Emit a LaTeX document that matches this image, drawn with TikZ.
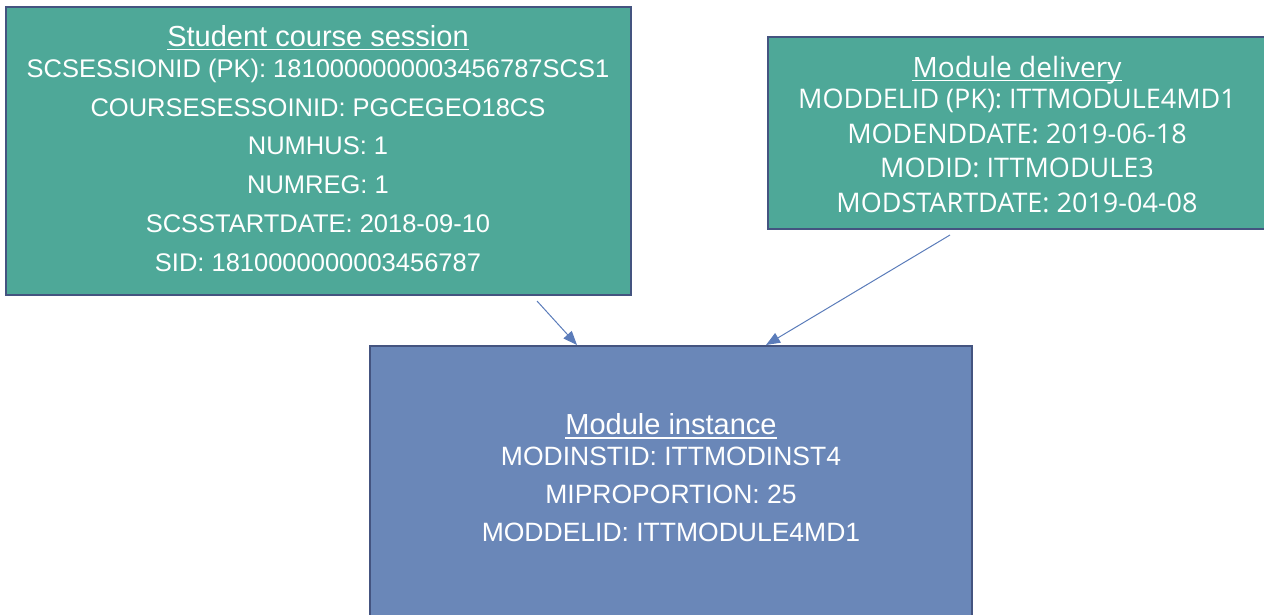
\documentclass[tikz,border=0pt]{standalone}
\usepackage{fontspec}
\newfontfamily\arialf{Liberation Sans}
\newfontfamily\opensf{Open Sans}
\usetikzlibrary{arrows.meta}
\definecolor{teal}{RGB}{78,168,152}
\definecolor{bluebox}{RGB}{106,135,184}
\definecolor{edge}{RGB}{68,84,128}
\definecolor{arrowc}{RGB}{91,124,186}
\begin{document}
\begin{tikzpicture}[x=1pt,y=-1pt,
  box/.style={draw=edge,line width=2pt,rectangle,inner sep=0pt},
  tA/.style={text=white,inner sep=0pt,anchor=base,font=\arialf\fontsize{25.5}{28}\selectfont},
  tB/.style={text=white,inner sep=0pt,anchor=base,font=\arialf\fontsize{26.5}{29}\selectfont},
  tAt/.style={text=white,inner sep=0pt,anchor=base,font=\arialf\fontsize{29}{32}\selectfont},
  tO/.style={text=white,inner sep=0pt,anchor=base,font=\opensf\fontsize{27}{30}\selectfont},
  tOt/.style={text=white,inner sep=0pt,anchor=base,font=\opensf\fontsize{28}{31}\selectfont},
  uline/.style={draw=white,line width=1.8pt},
  arr/.style={draw=arrowc,line width=1pt,-{Triangle[length=14pt,width=11pt]}}]
\useasboundingbox (0,0) rectangle (1264,614);
\clip (0,0) rectangle (1264,614);
% boxes
\node[box,fill=teal,minimum width=625,minimum height=288] (scs) at (318.5,151) {};
\node[box,fill=teal,minimum width=498,minimum height=192] (md) at (1017,133) {};
\node[box,fill=bluebox,minimum width=602,minimum height=300] (mi) at (671,496) {};
% student course session
\node[tAt] (scsT) at (318,46) {Student course session};
\draw[uline] ([yshift=-3.5]scsT.base west) -- ([yshift=-3.5]scsT.base east);
\node[tA] (s1) at (318,77.5) {SCSESSIONID (PK): 1810000000003456787SCS1};
\node[tA] (s2) at (318,116.2) {COURSESESSOINID: PGCEGEO18CS};
\node[tA] (s3) at (318,154.9) {NUMHUS: 1};
\node[tA] (s4) at (318,193.6) {NUMREG: 1};
\node[tA] (s5) at (318,232.3) {SCSSTARTDATE: 2018-09-10};
\node[tA] (s6) at (318,271) {SID: 1810000000003456787};
% module delivery
\node[tOt] (mdT) at (1017,77) {Module delivery};
\draw[uline] ([yshift=-3.5]mdT.base west) -- ([yshift=-3.5]mdT.base east);
\node[tO] (m1) at (1017,108.5) {MODDELID (PK): ITTMODULE4MD1};
\node[tO] (m2) at (1017,143) {MODENDDATE: 2019-06-18};
\node[tO] (m3) at (1017,177.5) {MODID: ITTMODULE3};
\node[tO] (m4) at (1017,212) {MODSTARTDATE: 2019-04-08};
% module instance
\node[tAt] (miT) at (671,434.5) {Module instance};
\draw[uline] ([yshift=-3.5]miT.base west) -- ([yshift=-3.5]miT.base east);
\node[tB] (i1) at (671,465) {MODINSTID: ITTMODINST4};
\node[tB] (i2) at (671,503.3) {MIPROPORTION: 25};
\node[tB] (i3) at (671,541.6) {MODDELID: ITTMODULE4MD1};
% connectors
\coordinate (a1s) at ([xshift=532,yshift=-5]scs.south west);
\coordinate (a1e) at ([xshift=208]mi.north west);
\coordinate (a2s) at ([xshift=183,yshift=-5]md.south west);
\coordinate (a2e) at ([xshift=397]mi.north west);
\draw[arr] (a1s) -- (a1e);
\draw[arr] (a2s) -- (a2e);
\end{tikzpicture}
\end{document}
